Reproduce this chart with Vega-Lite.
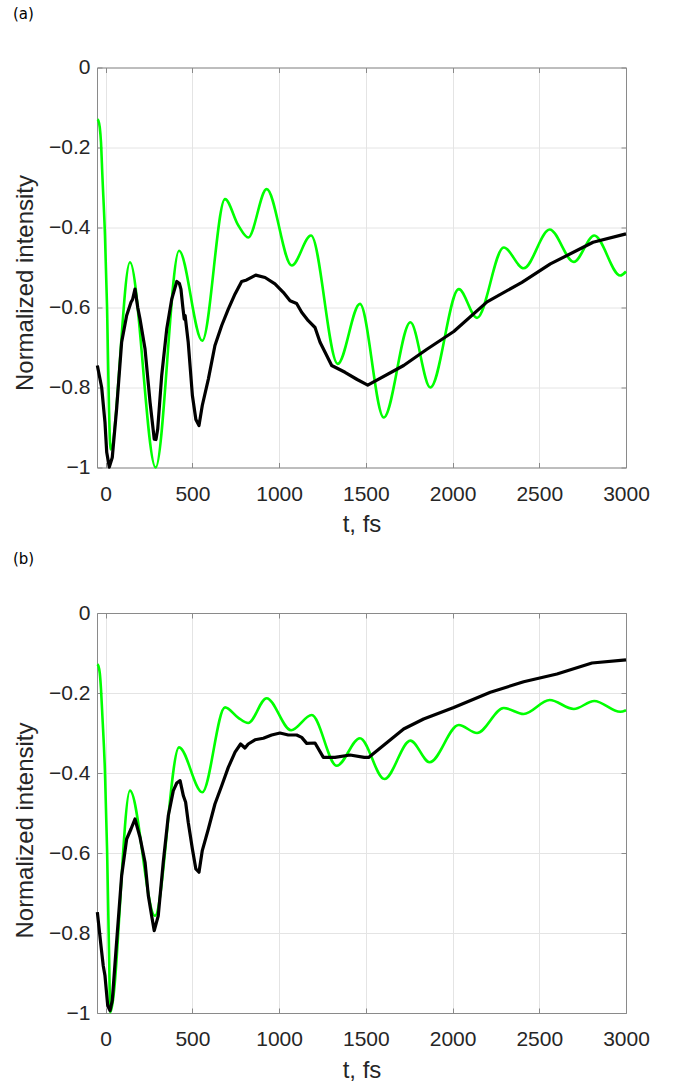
{
  "$schema": "https://vega.github.io/schema/vega-lite/v6.json",
  "background": "white",
  "autosize": {"type": "pad"},
  "padding": {"left": 13, "top": 6.5, "right": 10, "bottom": 5},
  "spacing": 15.5,
  "config": {
    "view": {"stroke": null},
    "axis": {
      "labelFont": "Liberation Sans", "labelFontSize": 21, "labelColor": "#262626",
      "titleFont": "Liberation Sans", "titleFontSize": 24, "titleColor": "#262626", "titleFontWeight": "normal",
      "domainColor": "#8a8a8a", "domainWidth": 1, "tickColor": "#8a8a8a", "tickWidth": 1,
      "gridColor": "#e4e4e4", "gridWidth": 1, "labelFlush": false, "labelOverlap": false
    },
    "title": {"font": "DejaVu Sans", "fontSize": 15, "fontWeight": "normal", "color": "#000000", "anchor": "start", "frame": "bounds", "baseline": "alphabetic", "offset": 35}
  },
  "datasets": {
    "a": [
      {"s":"g","t":-48,"v":-0.13},{"s":"g","t":-42,"v":-0.133},{"s":"g","t":-34,"v":-0.15},{"s":"g","t":-27,"v":-0.187},{"s":"g","t":-19,"v":-0.27},{"s":"g","t":-4,"v":-0.42},{"s":"g","t":8,"v":-0.6},{"s":"g","t":19,"v":-0.85},{"s":"g","t":28,"v":-0.955},
      {"s":"g","t":140,"v":-0.487},{"s":"g","t":288,"v":-1.0},{"s":"g","t":423,"v":-0.458},{"s":"g","t":557,"v":-0.683},{"s":"g","t":688,"v":-0.329},{"s":"g","t":765,"v":-0.395},{"s":"g","t":822,"v":-0.425},{"s":"g","t":928,"v":-0.304},{"s":"g","t":1073,"v":-0.495},{"s":"g","t":1184,"v":-0.42},{"s":"g","t":1338,"v":-0.741},{"s":"g","t":1466,"v":-0.591},{"s":"g","t":1603,"v":-0.875},{"s":"g","t":1757,"v":-0.637},{"s":"g","t":1872,"v":-0.8},{"s":"g","t":2036,"v":-0.554},{"s":"g","t":2141,"v":-0.626},{"s":"g","t":2295,"v":-0.45},{"s":"g","t":2410,"v":-0.502},{"s":"g","t":2560,"v":-0.405},{"s":"g","t":2699,"v":-0.486},{"s":"g","t":2817,"v":-0.42},{"s":"g","t":2967,"v":-0.52},{"s":"g","t":3000,"v":-0.51},
      {"s":"k","t":-48,"v":-0.745},{"s":"k","t":-23,"v":-0.8},{"s":"k","t":-10,"v":-0.86},{"s":"k","t":-4,"v":-0.887},{"s":"k","t":6,"v":-0.962},{"s":"k","t":21,"v":-0.999},{"s":"k","t":38,"v":-0.975},{"s":"k","t":63,"v":-0.854},{"s":"k","t":92,"v":-0.687},{"s":"k","t":121,"v":-0.62},{"s":"k","t":146,"v":-0.587},{"s":"k","t":155,"v":-0.58},{"s":"k","t":169,"v":-0.554},{"s":"k","t":185,"v":-0.6},{"s":"k","t":198,"v":-0.629},{"s":"k","t":227,"v":-0.704},{"s":"k","t":256,"v":-0.837},{"s":"k","t":280,"v":-0.929},{"s":"k","t":290,"v":-0.93},{"s":"k","t":300,"v":-0.904},{"s":"k","t":323,"v":-0.77},{"s":"k","t":352,"v":-0.654},{"s":"k","t":381,"v":-0.579},{"s":"k","t":410,"v":-0.535},{"s":"k","t":425,"v":-0.54},{"s":"k","t":434,"v":-0.554},{"s":"k","t":445,"v":-0.6},{"s":"k","t":453,"v":-0.629},{"s":"k","t":458,"v":-0.62},{"s":"k","t":476,"v":-0.687},{"s":"k","t":500,"v":-0.82},{"s":"k","t":520,"v":-0.88},{"s":"k","t":538,"v":-0.895},{"s":"k","t":557,"v":-0.845},{"s":"k","t":592,"v":-0.779},{"s":"k","t":630,"v":-0.695},{"s":"k","t":669,"v":-0.645},{"s":"k","t":707,"v":-0.604},{"s":"k","t":746,"v":-0.566},{"s":"k","t":784,"v":-0.535},{"s":"k","t":813,"v":-0.531},{"s":"k","t":865,"v":-0.519},{"s":"k","t":919,"v":-0.525},{"s":"k","t":976,"v":-0.541},{"s":"k","t":1024,"v":-0.562},{"s":"k","t":1063,"v":-0.583},{"s":"k","t":1101,"v":-0.59},{"s":"k","t":1130,"v":-0.612},{"s":"k","t":1168,"v":-0.633},{"s":"k","t":1207,"v":-0.65},{"s":"k","t":1236,"v":-0.687},{"s":"k","t":1265,"v":-0.712},{"s":"k","t":1303,"v":-0.745},{"s":"k","t":1380,"v":-0.762},{"s":"k","t":1450,"v":-0.78},{"s":"k","t":1511,"v":-0.794},{"s":"k","t":1718,"v":-0.745},{"s":"k","t":1850,"v":-0.705},{"s":"k","t":2007,"v":-0.66},{"s":"k","t":2199,"v":-0.586},{"s":"k","t":2400,"v":-0.537},{"s":"k","t":2564,"v":-0.491},{"s":"k","t":2810,"v":-0.437},{"s":"k","t":3000,"v":-0.416}
    ],
    "b": [
      {"s":"g","t":-48,"v":-0.128},{"s":"g","t":-42,"v":-0.132},{"s":"g","t":-34,"v":-0.15},{"s":"g","t":-27,"v":-0.19},{"s":"g","t":-19,"v":-0.257},{"s":"g","t":-4,"v":-0.398},{"s":"g","t":8,"v":-0.59},{"s":"g","t":19,"v":-0.84},{"s":"g","t":27,"v":-0.998},
      {"s":"g","t":140,"v":-0.444},{"s":"g","t":284,"v":-0.757},{"s":"g","t":423,"v":-0.336},{"s":"g","t":557,"v":-0.448},{"s":"g","t":688,"v":-0.236},{"s":"g","t":765,"v":-0.262},{"s":"g","t":822,"v":-0.275},{"s":"g","t":928,"v":-0.213},{"s":"g","t":1069,"v":-0.293},{"s":"g","t":1188,"v":-0.255},{"s":"g","t":1332,"v":-0.382},{"s":"g","t":1466,"v":-0.313},{"s":"g","t":1607,"v":-0.415},{"s":"g","t":1757,"v":-0.319},{"s":"g","t":1868,"v":-0.373},{"s":"g","t":2036,"v":-0.28},{"s":"g","t":2141,"v":-0.3},{"s":"g","t":2295,"v":-0.2375},{"s":"g","t":2410,"v":-0.2525},{"s":"g","t":2560,"v":-0.2175},{"s":"g","t":2699,"v":-0.24},{"s":"g","t":2817,"v":-0.22},{"s":"g","t":2967,"v":-0.247},{"s":"g","t":3000,"v":-0.243},
      {"s":"k","t":-48,"v":-0.748},{"s":"k","t":-27,"v":-0.832},{"s":"k","t":-14,"v":-0.882},{"s":"k","t":-4,"v":-0.907},{"s":"k","t":12,"v":-0.982},{"s":"k","t":25,"v":-0.994},{"s":"k","t":38,"v":-0.969},{"s":"k","t":63,"v":-0.823},{"s":"k","t":92,"v":-0.657},{"s":"k","t":121,"v":-0.565},{"s":"k","t":146,"v":-0.54},{"s":"k","t":169,"v":-0.515},{"s":"k","t":198,"v":-0.561},{"s":"k","t":227,"v":-0.623},{"s":"k","t":246,"v":-0.707},{"s":"k","t":265,"v":-0.757},{"s":"k","t":280,"v":-0.794},{"s":"k","t":303,"v":-0.757},{"s":"k","t":332,"v":-0.623},{"s":"k","t":361,"v":-0.507},{"s":"k","t":390,"v":-0.444},{"s":"k","t":410,"v":-0.425},{"s":"k","t":429,"v":-0.419},{"s":"k","t":448,"v":-0.457},{"s":"k","t":461,"v":-0.473},{"s":"k","t":476,"v":-0.523},{"s":"k","t":500,"v":-0.59},{"s":"k","t":520,"v":-0.64},{"s":"k","t":538,"v":-0.648},{"s":"k","t":557,"v":-0.594},{"s":"k","t":592,"v":-0.54},{"s":"k","t":630,"v":-0.4775},{"s":"k","t":669,"v":-0.432},{"s":"k","t":707,"v":-0.386},{"s":"k","t":746,"v":-0.348},{"s":"k","t":778,"v":-0.3275},{"s":"k","t":803,"v":-0.3375},{"s":"k","t":822,"v":-0.3275},{"s":"k","t":861,"v":-0.317},{"s":"k","t":909,"v":-0.313},{"s":"k","t":957,"v":-0.305},{"s":"k","t":1005,"v":-0.3},{"s":"k","t":1053,"v":-0.305},{"s":"k","t":1101,"v":-0.305},{"s":"k","t":1130,"v":-0.311},{"s":"k","t":1159,"v":-0.326},{"s":"k","t":1207,"v":-0.325},{"s":"k","t":1255,"v":-0.361},{"s":"k","t":1322,"v":-0.361},{"s":"k","t":1409,"v":-0.355},{"s":"k","t":1491,"v":-0.361},{"s":"k","t":1516,"v":-0.361},{"s":"k","t":1718,"v":-0.29},{"s":"k","t":1833,"v":-0.265},{"s":"k","t":2007,"v":-0.236},{"s":"k","t":2218,"v":-0.198},{"s":"k","t":2410,"v":-0.172},{"s":"k","t":2602,"v":-0.1525},{"s":"k","t":2804,"v":-0.125},{"s":"k","t":3000,"v":-0.117}
    ]
  },
  "vconcat": [
    {
      "width": 529, "height": 400,
      "title": {"text": "(a)"},
      "data": {"name": "a"},
      "layer": [
        {
          "transform": [{"filter": "datum.s === 'g'"}],
          "mark": {"type": "line", "color": "#00ff00", "strokeWidth": 2.6, "interpolate": "monotone"},
          "encoding": {
            "x": {"field": "t", "type": "quantitative", "scale": {"domain": [-50, 3000], "nice": false, "zero": false},
              "axis": {"orient": "bottom", "values": [0, 500, 1000, 1500, 2000, 2500, 3000], "format": "d", "grid": true, "ticks": true, "tickSize": -5, "labelPadding": 37.7, "labelBaseline": "alphabetic", "title": "t, fs", "titleBaseline": "alphabetic", "titleY": 64, "titleAnchor": "middle"}},
            "y": {"field": "v", "type": "quantitative", "scale": {"domain": [-1, 0], "nice": false, "zero": false},
              "axis": {"orient": "left", "values": [-1, -0.8, -0.6, -0.4, -0.2, 0], "labelExpr": "datum.value == 0 ? '0' : datum.value == -1 ? '−1' : '−' + format(-datum.value, '.1f')", "grid": true, "ticks": true, "tickSize": -5, "labelPadding": 12, "title": "Normalized intensity", "titleAngle": 270, "titleBaseline": "alphabetic", "titleAlign": "center", "titleX": -65, "titleY": 215}}
          }
        },
        {
          "transform": [{"filter": "datum.s === 'k'"}],
          "mark": {"type": "line", "color": "#000000", "strokeWidth": 3.2, "strokeJoin": "round"},
          "encoding": {
            "x": {"field": "t", "type": "quantitative", "scale": {"domain": [-50, 3000], "nice": false, "zero": false},
              "axis": {"orient": "top", "values": [0, 500, 1000, 1500, 2000, 2500, 3000], "labels": false, "grid": false, "ticks": true, "tickSize": -5, "title": null}},
            "y": {"field": "v", "type": "quantitative", "scale": {"domain": [-1, 0], "nice": false, "zero": false},
              "axis": {"orient": "right", "values": [-1, -0.8, -0.6, -0.4, -0.2, 0], "labels": false, "grid": false, "ticks": true, "tickSize": -5, "title": null}}
          }
        }
      ],
      "resolve": {"axis": {"x": "independent", "y": "independent"}}
    },
    {
      "width": 529, "height": 400,
      "title": {"text": "(b)"},
      "data": {"name": "b"},
      "layer": [
        {
          "transform": [{"filter": "datum.s === 'g'"}],
          "mark": {"type": "line", "color": "#00ff00", "strokeWidth": 2.6, "interpolate": "monotone"},
          "encoding": {
            "x": {"field": "t", "type": "quantitative", "scale": {"domain": [-50, 3000], "nice": false, "zero": false},
              "axis": {"orient": "bottom", "values": [0, 500, 1000, 1500, 2000, 2500, 3000], "format": "d", "grid": true, "ticks": true, "tickSize": -5, "labelPadding": 37.7, "labelBaseline": "alphabetic", "title": "t, fs", "titleBaseline": "alphabetic", "titleY": 64, "titleAnchor": "middle"}},
            "y": {"field": "v", "type": "quantitative", "scale": {"domain": [-1, 0], "nice": false, "zero": false},
              "axis": {"orient": "left", "values": [-1, -0.8, -0.6, -0.4, -0.2, 0], "labelExpr": "datum.value == 0 ? '0' : datum.value == -1 ? '−1' : '−' + format(-datum.value, '.1f')", "grid": true, "ticks": true, "tickSize": -5, "labelPadding": 12, "title": "Normalized intensity", "titleAngle": 270, "titleBaseline": "alphabetic", "titleAlign": "center", "titleX": -65, "titleY": 217}}
          }
        },
        {
          "transform": [{"filter": "datum.s === 'k'"}],
          "mark": {"type": "line", "color": "#000000", "strokeWidth": 3.2, "strokeJoin": "round"},
          "encoding": {
            "x": {"field": "t", "type": "quantitative", "scale": {"domain": [-50, 3000], "nice": false, "zero": false},
              "axis": {"orient": "top", "values": [0, 500, 1000, 1500, 2000, 2500, 3000], "labels": false, "grid": false, "ticks": true, "tickSize": -5, "title": null}},
            "y": {"field": "v", "type": "quantitative", "scale": {"domain": [-1, 0], "nice": false, "zero": false},
              "axis": {"orient": "right", "values": [-1, -0.8, -0.6, -0.4, -0.2, 0], "labels": false, "grid": false, "ticks": true, "tickSize": -5, "title": null}}
          }
        }
      ],
      "resolve": {"axis": {"x": "independent", "y": "independent"}}
    }
  ]
}
